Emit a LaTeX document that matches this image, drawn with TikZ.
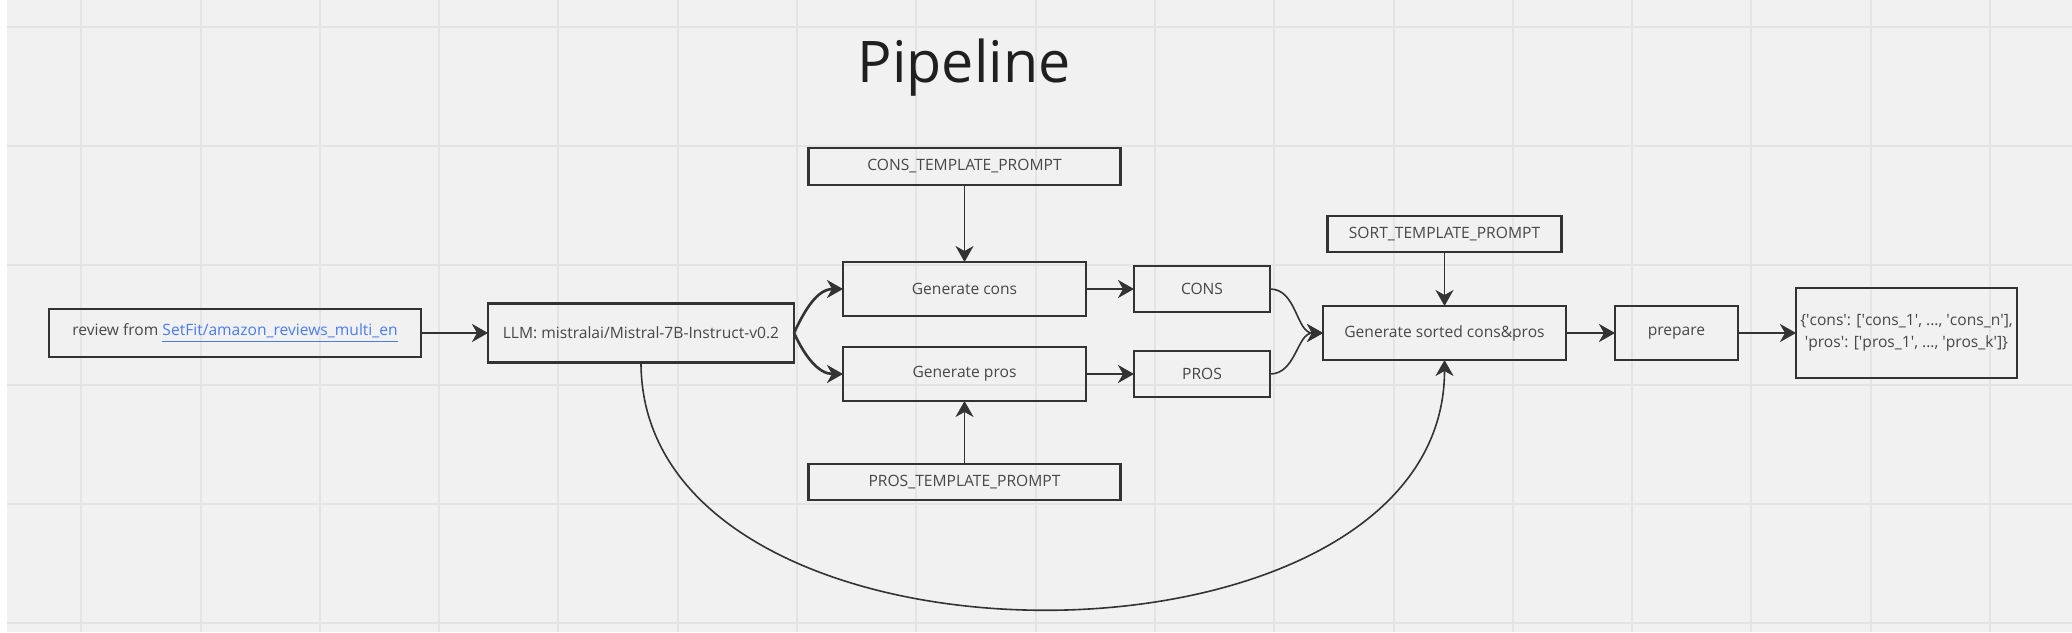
\documentclass[tikz,border=0pt]{standalone}
\usepackage{fontspec}
\setmainfont{Open Sans}
\usetikzlibrary{arrows.meta}
\usetikzlibrary{positioning}

\definecolor{boardgray}{HTML}{F1F1F1}
\definecolor{gridgray}{HTML}{E4E4E4}
\definecolor{inkgray}{HTML}{333333}
\definecolor{linkblue}{HTML}{4A7CF0}
\newcommand{\squote}{\textquotesingle}

\begin{document}
\begin{tikzpicture}[
				x=0.5pt, y=-0.5pt,
				block/.style={draw=inkgray, line width=1.4pt, align=center, inner sep=0pt, outer sep=0pt, text=inkgray!90, font=\fontsize{7.8}{10.8}\selectfont},
				flow/.style={draw=inkgray, line width=1.3pt, -{Stealth[length=8pt, width=9pt, inset=2.5pt]}},
				feed/.style={draw=inkgray, line width=0.8pt, -{Stealth[length=8pt, width=9pt, inset=2.5pt]}}
			]
				\useasboundingbox (0,0) rectangle (2072,632);
				\fill[boardgray] (0,0) rectangle (2072,632);
				\fill[white] (0,0) rectangle (7,632);
				\foreach \gx in {0,...,16}
					\draw[gridgray, line width=1pt] ({81.2+119.3*\gx},0) -- ++(0,632);
				\foreach \gy in {0,...,5}
					\draw[gridgray, line width=1pt] (7,{26.7+119.3*\gy}) -- (2072,{26.7+119.3*\gy});

				\node[anchor=base, text=black!88, font=\fontsize{28.7}{34}\selectfont] (title) at (964,82.7) {Pipeline};

				\node[block, minimum width=186pt, minimum height=24pt] (review) at (235,333) {review from {\color{linkblue}\underline{SetFit/amazon\_reviews\_multi\_en}}};
				\node[block, minimum width=153pt, minimum height=29.5pt, right=33.5pt of review] (llm) {LLM: mistralai/Mistral-7B-Instruct-v0.2};
				\node[block, minimum width=121.5pt, minimum height=27pt, right=24.5pt of llm.east, yshift=22pt] (gencons) {Generate cons};
				\node[block, minimum width=121.5pt, minimum height=27pt, below=15.5pt of gencons] (genpros) {Generate pros};
				\node[block, minimum width=156pt, minimum height=18.5pt, above=38.5pt of gencons] (constpl) {CONS\_TEMPLATE\_PROMPT};
				\node[block, minimum width=156pt, minimum height=18pt, below=31.5pt of genpros] (prostpl) {PROS\_TEMPLATE\_PROMPT};
				\node[block, minimum width=68pt, minimum height=23pt, right=24pt of gencons] (cons) {CONS};
				\node[block, minimum width=68pt, minimum height=23pt, right=24pt of genpros] (pros) {PROS};
				\coordinate (merge) at (cons.east |- llm.east);
				\node[block, minimum width=121.5pt, minimum height=27pt, right=26.5pt of merge] (gensort) {Generate sorted cons\&pros};
				\node[block, minimum width=117pt, minimum height=18pt, above=27pt of gensort] (sorttpl) {SORT\_TEMPLATE\_PROMPT};
				\node[block, minimum width=61.5pt, minimum height=27pt, right=24.5pt of gensort] (prepare) {prepare};
				\node[block, minimum width=110.5pt, minimum height=45pt, right=29pt of prepare] (result) {\{\squote cons\squote: [\squote cons\_1\squote, ..., \squote cons\_n\squote],\\ \squote pros\squote: [\squote pros\_1\squote, ..., \squote pros\_k\squote]\}};

				\draw[flow] (review) -- (llm);
				\draw[flow] (llm.east) to[out=65, in=180] (gencons.west);
				\draw[flow] (llm.east) to[out=-65, in=180] (genpros.west);
				\draw[feed] (constpl) -- (gencons);
				\draw[feed] (prostpl) -- (genpros);
				\draw[flow] (gencons) -- (cons);
				\draw[flow] (genpros) -- (pros);
				\draw[feed] (cons.east) to[out=0, in=180] (gensort.west);
				\draw[feed] (pros.east) to[out=0, in=180] (gensort.west);
				\draw[feed] (sorttpl) -- (gensort);
				\draw[flow] (gensort) -- (prepare);
				\draw[flow] (prepare) -- (result);

				\draw[feed] (llm.south) to[out=-90, in=-90, looseness=1.05] (gensort.south);
			\end{tikzpicture}
\end{document}
